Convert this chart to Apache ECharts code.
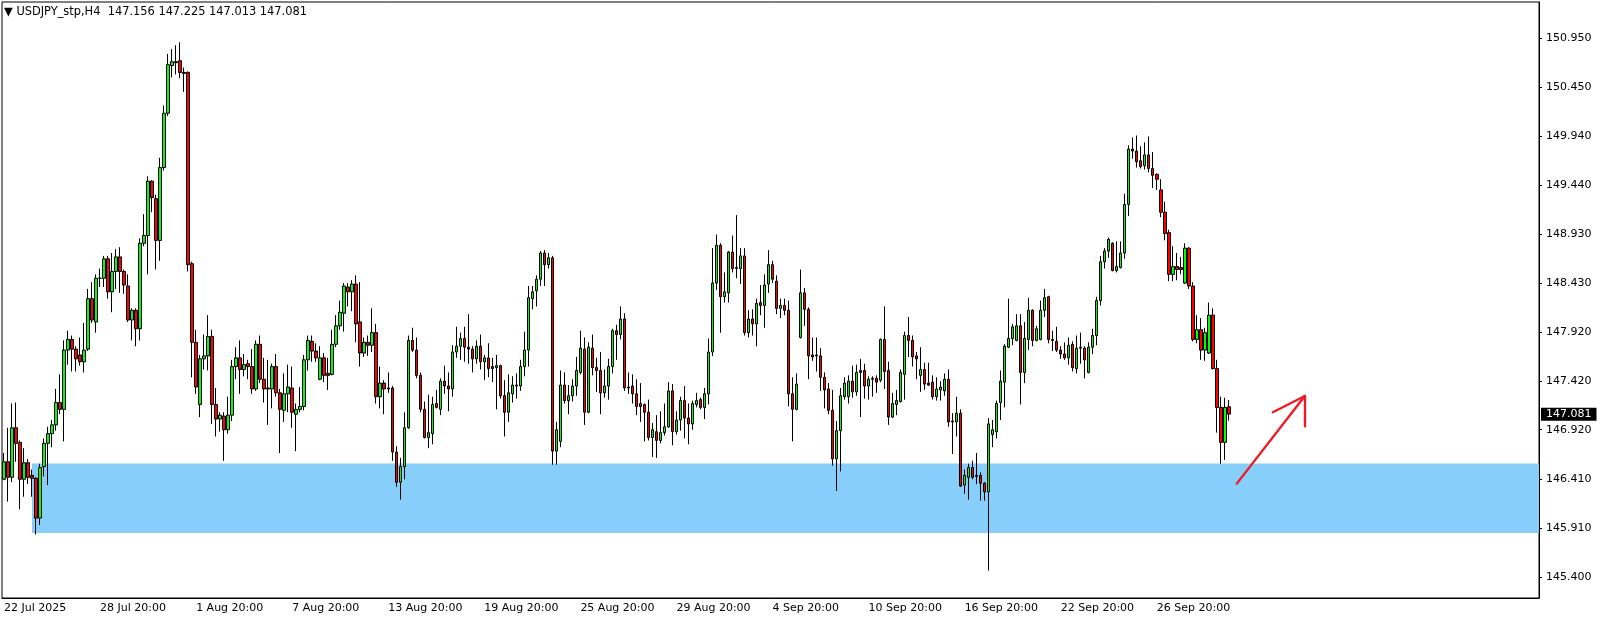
<!DOCTYPE html>
<html>
<head>
<meta charset="utf-8">
<title>USDJPY_stp,H4</title>
<script src="https://cdn.jsdelivr.net/npm/echarts@6/dist/echarts.min.js"></script>
<style>
  html, body { margin: 0; padding: 0; background: #fff; }
  #chart { width: 1604px; height: 620px; }
</style>
</head>
<body>
<div id="chart"></div>
<script>
// H4 bars, 22 Jul 2025 20:00 -> 1 Oct 2025 20:00
const open = [
  146.41, 146.59, 146.43, 146.94, 146.79, 146.41, 146.58, 146.45, 146.42, 146.01,
  146.54, 146.78, 146.88, 146.97, 147.20, 147.13, 147.74, 147.85, 147.75, 147.69,
  147.62, 147.75, 148.27, 148.03, 148.48, 148.48, 148.68, 148.34, 148.55, 148.70,
  148.55, 148.40, 148.05, 148.15, 147.96, 148.84, 148.92, 149.48, 149.30, 148.87,
  149.62, 150.18, 150.67, 150.71, 150.72, 150.60, 150.60, 148.63, 147.82, 147.18,
  147.65, 147.68, 147.88, 147.18, 147.03, 147.06, 146.92, 147.07, 147.57, 147.66,
  147.54, 147.60, 147.57, 147.34, 147.80, 147.44, 147.35, 147.34, 147.57, 147.30,
  147.12, 147.29, 147.35, 147.08, 147.13, 147.16, 147.64, 147.83, 147.73, 147.44,
  147.66, 147.50, 147.49, 147.80, 147.99, 148.12, 148.39, 148.34, 148.42, 148.03,
  147.71, 147.82, 147.79, 147.92, 147.26, 147.40, 147.35, 147.35, 146.69, 146.38,
  146.54, 146.94, 147.84, 147.74, 147.48, 147.13, 146.84, 146.88, 147.19, 147.13,
  147.42, 147.37, 147.34, 147.72, 147.78, 147.86, 147.77, 147.75, 147.65, 147.78,
  147.62, 147.66, 147.57, 147.56, 147.58, 147.27, 147.10, 147.29, 147.38, 147.37,
  147.57, 147.74, 148.27, 148.35, 148.47, 148.74, 148.62, 148.69, 146.70, 146.80,
  147.38, 147.22, 147.27, 147.37, 147.51, 147.75, 147.10, 147.76, 147.56, 147.53,
  147.30, 147.37, 147.57, 147.94, 147.90, 148.06, 147.36, 147.37, 147.29, 147.19,
  147.18, 147.10, 146.84, 146.90, 146.81, 146.89, 146.95, 147.32, 146.90, 147.02,
  147.22, 147.04, 146.98, 147.18, 147.23, 147.15, 147.29, 147.72, 148.43, 148.82,
  148.29, 148.33, 148.75, 148.59, 148.58, 148.71, 147.92, 148.06, 148.01, 148.23,
  148.20, 148.42, 148.62, 148.45, 148.17, 148.20, 148.15, 147.29, 147.13, 147.87,
  148.33, 148.16, 147.69, 147.69, 147.68, 147.46, 147.34, 147.12, 146.62, 146.91,
  147.26, 147.26, 147.42, 147.31, 147.53, 147.53, 147.37, 147.45, 147.45, 147.43,
  147.85, 147.53, 147.05, 147.18, 147.21, 147.49, 147.89, 147.84, 147.68, 147.48,
  147.54, 147.40, 147.41, 147.26, 147.33, 147.32, 147.44, 147.01, 147.00, 147.09,
  146.35, 146.43, 146.53, 146.45, 146.45, 146.37, 146.28, 146.87, 146.90, 147.20,
  147.41, 147.77, 147.86, 147.84, 147.99, 147.51, 147.85, 148.15, 147.84, 147.85,
  148.15, 148.29, 147.85, 147.83, 147.74, 147.70, 147.66, 147.80, 147.55, 147.77,
  147.76, 147.51, 147.77, 147.89, 148.25, 148.65, 148.76, 148.84, 148.56, 148.59,
  148.74, 149.24, 149.81, 149.79, 149.69, 149.64, 149.75, 149.61, 149.55, 149.39,
  149.16, 148.95, 148.52, 148.60, 148.59, 148.43, 148.79, 148.40, 147.85, 147.95,
  147.74, 147.71, 148.10, 147.55, 147.15, 146.79, 147.156
];
const high = [
  146.68, 146.94, 147.19, 147.20, 146.81, 146.73, 146.62, 146.51, 146.43, 146.57,
  146.83, 146.95, 147.02, 147.34, 147.49, 147.84, 147.94, 147.89, 147.78, 147.87,
  148.02, 148.37, 148.44, 148.52, 148.58, 148.71, 148.71, 148.74, 148.78, 148.80,
  148.57, 148.52, 148.17, 148.17, 148.89, 149.14, 149.53, 149.49, 149.34, 149.72,
  150.26, 150.79, 150.84, 150.88, 150.91, 150.65, 150.61, 148.65, 147.95, 147.69,
  147.90, 148.10, 147.95, 147.35, 147.10, 147.10, 147.26, 147.64, 147.77, 147.84,
  147.70, 147.64, 147.75, 147.84, 147.89, 147.66, 147.64, 147.60, 147.70, 147.34,
  147.50, 147.59, 147.57, 147.19, 147.36, 147.69, 147.89, 147.89, 147.81, 147.78,
  147.71, 147.66, 147.95, 148.10, 148.25, 148.43, 148.43, 148.46, 148.51, 148.44,
  147.87, 147.89, 148.17, 148.01, 147.57, 147.43, 147.51, 147.37, 146.75, 146.63,
  147.10, 147.89, 147.97, 147.87, 147.51, 147.21, 147.28, 147.26, 147.33, 147.45,
  147.58, 147.51, 147.79, 147.98, 147.92, 147.98, 148.11, 147.78, 147.84, 147.90,
  147.69, 147.81, 147.66, 147.69, 147.59, 147.43, 147.49, 147.47, 147.50, 147.64,
  147.93, 148.40, 148.40, 148.51, 148.76, 148.77, 148.74, 148.71, 147.00, 147.53,
  147.51, 147.38, 147.44, 147.67, 147.94, 147.87, 147.82, 147.90, 147.66, 147.72,
  147.54, 147.65, 147.96, 148.00, 148.19, 148.12, 147.51, 147.49, 147.44, 147.40,
  147.19, 147.23, 146.99, 147.07, 147.11, 147.19, 147.41, 147.39, 147.11, 147.26,
  147.37, 147.19, 147.22, 147.30, 147.25, 147.35, 147.86, 148.79, 148.93, 148.84,
  148.54, 148.76, 148.92, 149.13, 148.79, 148.79, 148.15, 148.16, 148.27, 148.41,
  148.52, 148.77, 148.66, 148.51, 148.27, 148.27, 148.25, 147.46, 147.50, 148.57,
  148.38, 148.18, 147.87, 147.87, 147.76, 147.51, 147.40, 147.33, 147.01, 147.35,
  147.46, 147.48, 147.58, 147.59, 147.65, 147.60, 147.47, 147.47, 147.48, 147.86,
  148.19, 147.62, 147.30, 147.33, 147.54, 147.93, 148.08, 147.89, 147.72, 147.77,
  147.61, 147.61, 147.48, 147.46, 147.42, 147.50, 147.54, 147.09, 147.26, 147.13,
  146.51, 146.57, 146.60, 146.68, 146.48, 146.38, 147.04, 147.02, 147.22, 147.53,
  147.80, 148.27, 148.01, 148.11, 148.11, 148.03, 148.28, 148.16, 147.99, 148.25,
  148.37, 148.30, 147.94, 147.98, 147.78, 147.82, 147.87, 147.83, 147.89, 147.92,
  147.78, 147.82, 147.96, 148.29, 148.71, 148.79, 148.90, 148.85, 148.86, 148.86,
  149.35, 149.85, 149.93, 149.95, 149.84, 149.88, 149.94, 149.78, 149.56, 149.50,
  149.27, 148.98, 148.81, 148.74, 148.70, 148.84, 148.80, 148.44, 148.10, 148.07,
  147.97, 148.23, 148.17, 147.64, 147.26, 147.25, 147.225
];
const low = [
  146.40, 146.18, 146.38, 146.59, 146.10, 146.23, 146.36, 146.23, 145.84, 145.94,
  146.44, 146.35, 146.74, 146.91, 147.08, 146.80, 147.59, 147.52, 147.52, 147.58,
  147.51, 147.73, 148.02, 147.92, 148.39, 148.39, 148.27, 148.13, 148.37, 148.33,
  148.32, 148.03, 147.84, 147.78, 147.84, 148.81, 148.52, 149.16, 148.57, 148.66,
  149.59, 150.15, 150.55, 150.58, 150.54, 150.40, 148.55, 147.46, 147.29, 147.05,
  147.54, 147.53, 146.98, 146.85, 146.90, 146.60, 146.88, 147.01, 147.44, 147.29,
  147.47, 147.44, 147.29, 147.32, 147.40, 147.20, 146.97, 147.14, 147.26, 146.68,
  147.00, 147.10, 146.94, 146.70, 147.10, 147.12, 147.53, 147.62, 147.62, 147.43,
  147.41, 147.33, 147.48, 147.77, 147.95, 147.93, 148.19, 148.14, 147.82, 147.57,
  147.67, 147.68, 147.72, 147.19, 147.14, 147.08, 147.30, 146.60, 146.33, 146.20,
  146.41, 146.93, 147.72, 147.45, 147.10, 146.83, 146.73, 146.77, 147.14, 147.07,
  147.29, 147.11, 147.26, 147.66, 147.64, 147.62, 147.60, 147.51, 147.60, 147.54,
  147.43, 147.46, 147.41, 147.13, 147.24, 146.85, 147.00, 147.20, 147.24, 147.32,
  147.47, 147.57, 148.16, 148.19, 148.40, 148.40, 148.58, 146.56, 146.56, 146.74,
  147.19, 147.08, 147.21, 147.27, 147.49, 146.97, 147.09, 147.48, 147.31, 147.08,
  147.25, 147.23, 147.50, 147.64, 147.85, 147.32, 147.29, 147.19, 147.07, 147.00,
  146.80, 146.81, 146.64, 146.63, 146.78, 146.86, 146.94, 146.76, 146.87, 146.91,
  146.83, 146.77, 146.92, 147.15, 147.13, 147.03, 147.18, 147.68, 148.36, 147.92,
  148.23, 148.23, 148.54, 148.48, 148.42, 147.89, 147.87, 147.89, 147.78, 148.10,
  147.97, 148.33, 148.43, 148.11, 148.07, 148.10, 147.16, 146.80, 147.12, 147.86,
  147.99, 147.44, 147.63, 147.52, 147.32, 147.14, 147.08, 146.55, 146.29, 146.49,
  147.23, 147.19, 147.25, 147.27, 147.05, 147.24, 147.23, 147.26, 147.30, 147.41,
  147.34, 146.97, 147.04, 147.07, 147.20, 147.23, 147.67, 147.57, 147.44, 147.31,
  147.33, 147.37, 147.23, 147.22, 147.22, 147.27, 146.95, 146.67, 146.85, 146.33,
  146.26, 146.20, 146.41, 146.36, 146.19, 146.19, 145.47, 146.74, 146.83, 147.02,
  147.15, 147.76, 147.79, 147.83, 147.18, 147.40, 147.74, 147.78, 147.83, 147.84,
  148.08, 147.81, 147.73, 147.72, 147.65, 147.64, 147.59, 147.52, 147.50, 147.60,
  147.45, 147.50, 147.70, 147.79, 148.20, 148.58, 148.69, 148.55, 148.54, 148.58,
  148.68, 149.12, 149.71, 149.62, 149.61, 149.60, 149.57, 149.41, 149.39, 149.11,
  148.87, 148.45, 148.45, 148.46, 148.52, 148.42, 148.37, 147.83, 147.81, 147.64,
  147.63, 147.70, 147.54, 146.89, 146.57, 146.61, 147.013
];
const close = [
  146.59, 146.43, 146.94, 146.78, 146.41, 146.58, 146.43, 146.42, 146.01, 146.53,
  146.78, 146.88, 146.97, 147.20, 147.13, 147.74, 147.85, 147.75, 147.65, 147.62,
  147.74, 148.27, 148.05, 148.48, 148.48, 148.68, 148.34, 148.55, 148.70, 148.55,
  148.41, 148.05, 148.15, 147.96, 148.84, 148.92, 149.48, 149.31, 148.87, 149.62,
  150.18, 150.68, 150.71, 150.70, 150.60, 150.59, 148.62, 147.82, 147.36, 147.65,
  147.68, 147.88, 147.18, 147.03, 147.07, 146.92, 147.07, 147.57, 147.66, 147.54,
  147.59, 147.57, 147.34, 147.80, 147.44, 147.34, 147.34, 147.57, 147.30, 147.13,
  147.29, 147.36, 147.10, 147.13, 147.16, 147.64, 147.84, 147.73, 147.66, 147.66,
  147.48, 147.48, 147.80, 147.99, 148.13, 148.40, 148.34, 148.42, 148.01, 147.71,
  147.82, 147.79, 147.92, 147.26, 147.40, 147.34, 147.34, 146.69, 146.38, 146.54,
  146.94, 147.84, 147.74, 147.48, 147.13, 146.84, 146.89, 147.18, 147.15, 147.42,
  147.37, 147.34, 147.72, 147.78, 147.86, 147.77, 147.75, 147.65, 147.78, 147.62,
  147.66, 147.55, 147.55, 147.58, 147.27, 147.10, 147.30, 147.38, 147.37, 147.57,
  147.74, 148.28, 148.34, 148.47, 148.74, 148.62, 148.69, 146.70, 146.92, 147.38,
  147.22, 147.27, 147.37, 147.53, 147.76, 147.10, 147.77, 147.56, 147.53, 147.30,
  147.37, 147.57, 147.94, 147.90, 148.06, 147.35, 147.35, 147.29, 147.16, 147.16,
  147.10, 146.84, 146.92, 146.81, 146.89, 146.95, 147.32, 146.90, 147.02, 147.22,
  147.04, 146.98, 147.19, 147.22, 147.15, 147.29, 147.72, 148.43, 148.82, 148.29,
  148.34, 148.75, 148.58, 148.58, 148.71, 147.92, 148.06, 148.01, 148.22, 148.20,
  148.41, 148.62, 148.47, 148.17, 148.20, 148.15, 147.29, 147.13, 147.39, 148.33,
  148.16, 147.68, 147.67, 147.68, 147.46, 147.33, 147.12, 146.62, 146.91, 147.27,
  147.40, 147.42, 147.31, 147.51, 147.51, 147.37, 147.44, 147.44, 147.41, 147.85,
  147.52, 147.05, 147.19, 147.22, 147.51, 147.89, 147.84, 147.67, 147.65, 147.54,
  147.39, 147.38, 147.26, 147.34, 147.36, 147.44, 147.00, 147.00, 147.09, 146.34,
  146.45, 146.53, 146.43, 146.44, 146.37, 146.28, 146.98, 146.92, 147.19, 147.42,
  147.78, 147.86, 147.98, 147.99, 147.51, 147.86, 148.15, 147.84, 147.96, 148.15,
  148.28, 147.85, 147.84, 147.74, 147.70, 147.66, 147.79, 147.56, 147.76, 147.76,
  147.64, 147.77, 147.89, 148.25, 148.65, 148.76, 148.88, 148.56, 148.60, 148.74,
  149.24, 149.81, 149.79, 149.68, 149.63, 149.75, 149.61, 149.54, 149.50, 149.16,
  148.94, 148.52, 148.60, 148.57, 148.57, 148.79, 148.40, 147.85, 147.95, 147.74,
  147.92, 148.10, 147.55, 147.15, 146.79, 147.15, 147.081
];

// one label every 24 bars (4 trading days)
const dateLabels = [
  "22 Jul 2025", "28 Jul 20:00", "1 Aug 20:00", "7 Aug 20:00", "13 Aug 20:00",
  "19 Aug 20:00", "25 Aug 20:00", "29 Aug 20:00", "4 Sep 20:00", "10 Sep 20:00",
  "16 Sep 20:00", "22 Sep 20:00", "26 Sep 20:00"
];
const priceTicks = [150.95, 150.45, 149.94, 149.44, 148.93, 148.43, 147.92, 147.42, 146.92, 146.41, 145.91, 145.40];
const lastPrice = 147.081;
const headerText = "USDJPY_stp,H4  147.156 147.225 147.013 147.081";

// support zone (rectangle object, runs off the right edge) and hand drawn arrow, in bar index / price
const zoneStartBar = 7;
const zoneTop = 146.572;
const zoneBottom = 145.856;
const arrowStart = [308.4, 146.365];
const arrowTip = [325.3, 147.267];
const arrowHeadLeft = [316.6, 147.10];
const arrowHeadDown = [325.1, 146.955];

const totalSlots = 384;
const labelStep = 24;
const lastLabelBar = labelStep * (dateLabels.length - 1);

const slots = [];
for (let i = 0; i < totalSlots; i++) slots.push(String(i));
const candles = open.map((o, i) => [o, close[i], low[i], high[i]]);

const showLabel = (idx) => idx % labelStep === 0 && idx <= lastLabelBar;

const chart = echarts.init(document.getElementById("chart"), null, { renderer: "canvas" });

const option = {
  animation: false,
  backgroundColor: "#ffffff",
  textStyle: { fontFamily: "DejaVu Sans", color: "#000" },
  title: {
    text: "\u25BC " + headerText,
    left: 4,
    top: 7,
    padding: 0,
    textStyle: { fontFamily: "DejaVu Sans", fontSize: 11.4, fontWeight: "normal", color: "#000" }
  },
  grid: {
    left: 2,
    right: 65,
    top: 2,
    bottom: 22,
    show: true,
    borderColor: "#000",
    borderWidth: 1,
    backgroundColor: "transparent"
  },
  xAxis: {
    type: "category",
    data: slots,
    boundaryGap: true,
    axisLine: { lineStyle: { color: "#000", width: 1 } },
    axisTick: {
      alignWithLabel: true,
      interval: showLabel,
      length: 4,
      lineStyle: { color: "#000" }
    },
    axisLabel: {
      interval: showLabel,
      formatter: (v, idx) => dateLabels[Math.round(idx / labelStep)],
      align: "left",
      margin: 5,
      fontSize: 11,
      color: "#000",
      fontFamily: "DejaVu Sans"
    },
    splitLine: { show: false }
  },
  yAxis: {
    type: "value",
    position: "right",
    min: 145.187,
    max: 151.325,
    scale: true,
    axisLine: { show: true, lineStyle: { color: "#000", width: 1 } },
    axisTick: {
      show: true,
      customValues: priceTicks,
      length: 3,
      lineStyle: { color: "#000" }
    },
    axisLabel: {
      customValues: priceTicks,
      formatter: (v) => v.toFixed(3),
      margin: 7,
      fontSize: 11,
      color: "#000",
      fontFamily: "DejaVu Sans"
    },
    splitLine: { show: false }
  },
  series: [
    {
      name: "zone",
      type: "line",
      data: [],
      z: 1,
      silent: true,
      markArea: {
        silent: true,
        itemStyle: { color: "#87CEFA", opacity: 1 },
        data: [[
          { xAxis: zoneStartBar, yAxis: zoneTop },
          { xAxis: Infinity, yAxis: zoneBottom }
        ]]
      }
    },
    {
      name: "USDJPY_stp,H4",
      type: "candlestick",
      data: candles,
      z: 3,
      barWidth: 3,
      itemStyle: {
        color: "#00ff00",
        color0: "#ff0000",
        borderColor: "#000",
        borderColor0: "#000",
        borderWidth: 1
      },
      markLine: {
        silent: true,
        symbol: ["none", "none"],
        lineStyle: { color: "rgba(0,0,0,0)", width: 0, type: "solid" },
        label: {
          show: true,
          position: "end",
          distance: 2,
          formatter: () => lastPrice.toFixed(3),
          backgroundColor: "#000",
          color: "#fff",
          opacity: 1,
          fontSize: 11,
          fontFamily: "DejaVu Sans",
          padding: [1, 5, 0, 5],
          lineHeight: 12
        },
        emphasis: { disabled: true },
        data: [{ yAxis: lastPrice }]
      }
    },
    {
      name: "arrow",
      type: "lines",
      coordinateSystem: "cartesian2d",
      z: 4,
      silent: true,
      lineStyle: { color: "#ed1c24", width: 2.4, opacity: 1, cap: "round" },
      data: [
        { coords: [arrowStart, arrowTip] },
        { coords: [arrowTip, arrowHeadLeft] },
        { coords: [arrowTip, arrowHeadDown] }
      ]
    }
  ]
};

chart.setOption(option);
</script>
</body>
</html>
